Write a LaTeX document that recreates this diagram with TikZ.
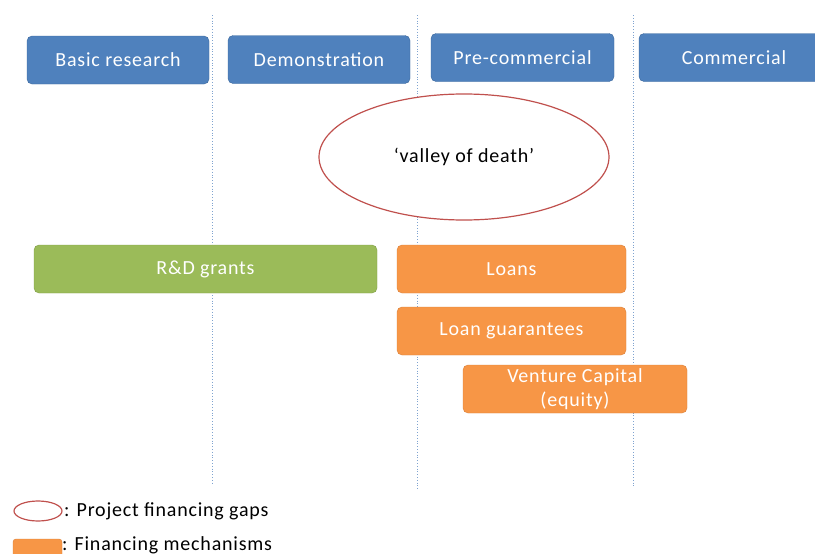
\documentclass[tikz,border=0pt]{standalone}
\usepackage{fontspec}
\setmainfont{Carlito}[LetterSpace=4]
\usetikzlibrary{shapes.geometric}
\definecolor{stageblue}{HTML}{4F81BD}
\definecolor{stageedge}{HTML}{3A679C}
\definecolor{grantgreen}{HTML}{9BBB59}
\definecolor{grantedge}{HTML}{7F9D45}
\definecolor{mechorange}{HTML}{F79646}
\definecolor{mechedge}{HTML}{D9803A}
\definecolor{gapred}{HTML}{C0504D}
\definecolor{dividerblue}{HTML}{7FA3D0}
\newcommand{\labelfont}{\fontsize{20}{24}\selectfont}
\tikzset{
    stage/.style={draw=stageedge, fill=stageblue, text=white, rounded corners=5pt,
        minimum height=48pt, inner sep=0pt, font=\labelfont},
    grant/.style={draw=grantedge, fill=grantgreen, text=white, rounded corners=5pt,
        minimum height=48pt, inner sep=0pt, font=\labelfont},
    mech/.style={draw=mechedge, fill=mechorange, text=white, rounded corners=5pt,
        minimum height=48pt, inner sep=0pt, font=\labelfont, align=center},
    divider/.style={dividerblue, dotted, thick}
}
\begin{document}
\begin{tikzpicture}[x=1pt, y=-1pt]
            \useasboundingbox (0, 0) rectangle (815, 554);
            % stage dividers
            \draw[divider] (212, 15) -- (212, 485);
            \draw[divider] (417, 15) -- (417, 490);
            \draw[divider] (633, 15) -- (633, 488);
            % stages
            \node[stage, minimum width=182pt] (basic) at (118, 60) {Basic research};
            \node[stage, minimum width=182pt] (demo) at (319, 59.5) {Demonstration};
            \node[stage, minimum width=183pt] (precom) at (522.5, 57.5) {Pre-commercial};
            \node[stage, minimum width=190pt] (com) at (734, 57.5) {Commercial};
            % gap
            \node[draw=gapred, line width=1.2pt, fill=white, ellipse, minimum width=290pt,
                minimum height=126pt, font=\labelfont] (valley) at (464, 157) {‘valley of death’};
            % financing
            \node[grant, minimum width=343pt] (grants) at (205.5, 269) {R\&D grants};
            \node[mech, minimum width=229pt] (loans) at (511.5, 269) {Loans};
            \node[mech, minimum width=229pt] (guar) at (511.5, 331) {Loan guarantees};
            \node[mech, minimum width=224pt] (vc) at (575, 389) {Venture Capital\\(equity)};
            % legend
            \node[draw=gapred, line width=1.2pt, fill=white, ellipse, minimum width=48pt,
                minimum height=20pt, inner sep=0pt] (keygap) at (38, 511) {};
            \node[anchor=west, inner sep=0pt, font=\labelfont] (keygaptext)
                at (64, 511) {: Project financing gaps};
            \node[draw=mechedge, fill=mechorange, rounded corners=3pt, minimum width=49pt,
                minimum height=24pt, inner sep=0pt] (keymech) at (37.5, 551) {};
            \node[anchor=west, inner sep=0pt, font=\labelfont] (keymechtext)
                at (62, 545) {: Financing mechanisms};
        \end{tikzpicture}
\end{document}
